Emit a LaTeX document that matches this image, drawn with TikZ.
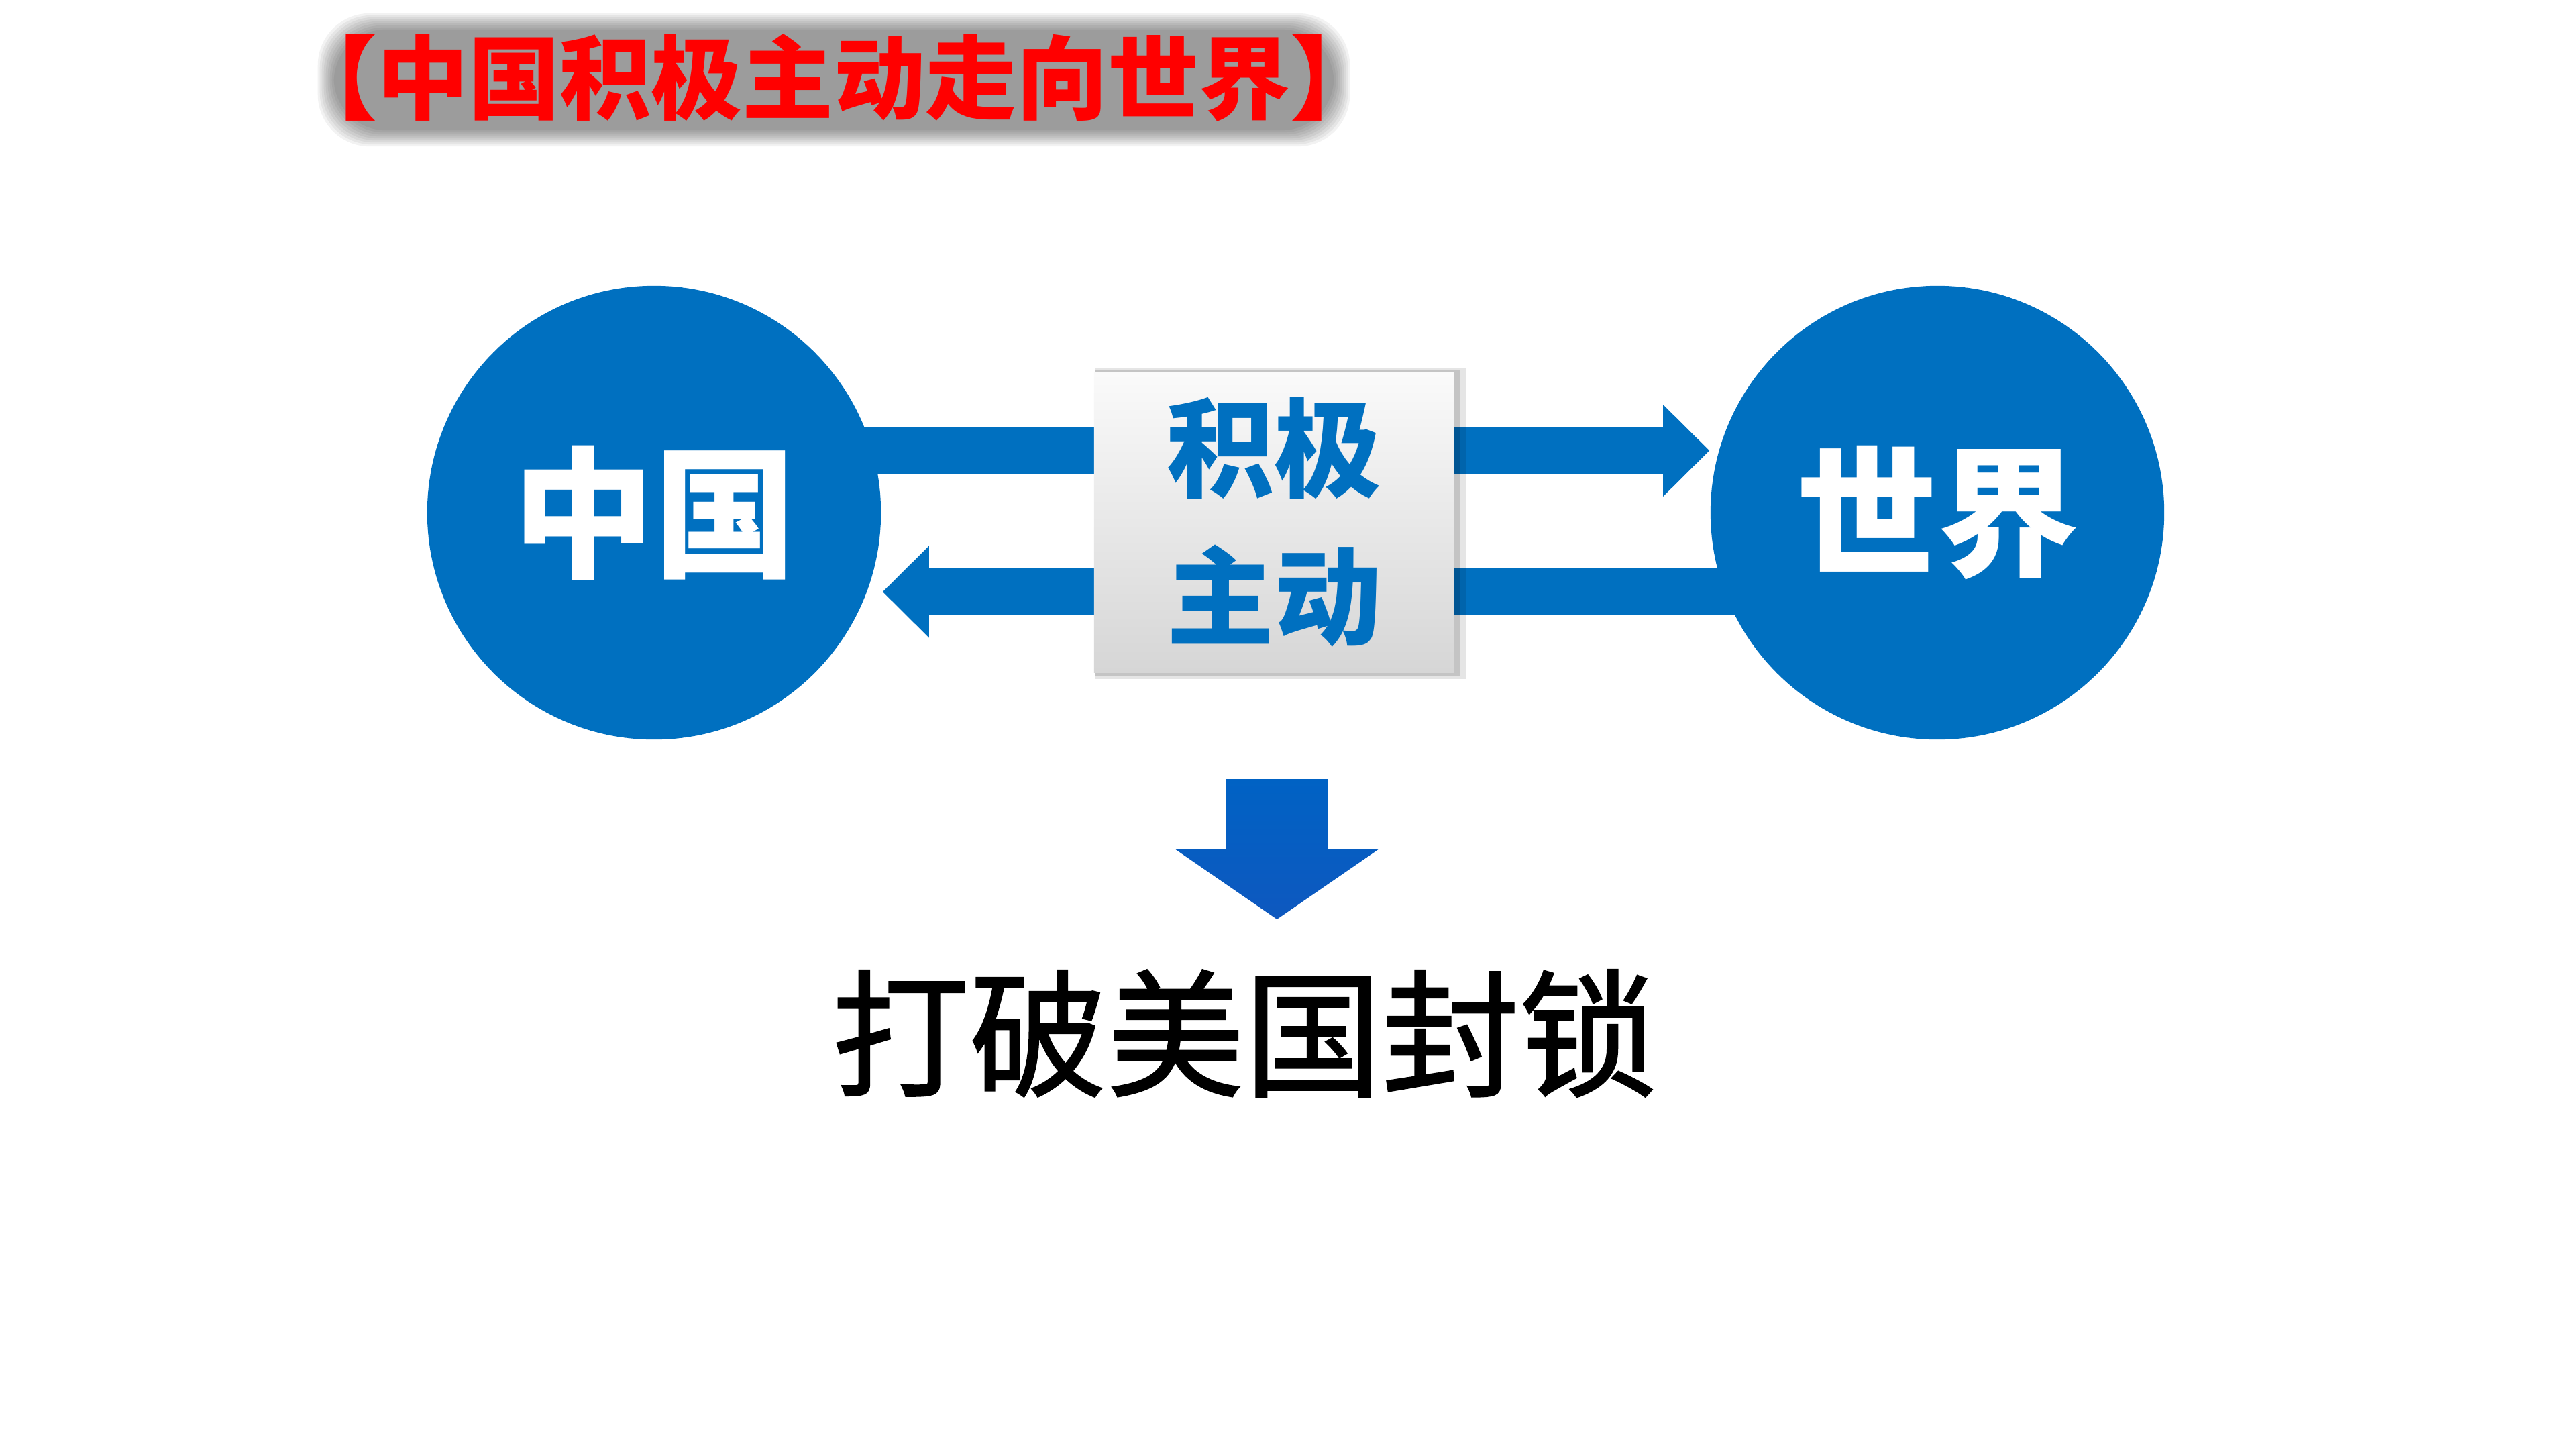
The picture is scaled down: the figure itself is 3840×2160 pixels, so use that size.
\documentclass[tikz,border=0pt]{standalone}
\usepackage{fontspec}
\newfontfamily\cjk{Noto Sans CJK SC}
\newfontfamily\cjkheavy[FakeBold=1.2]{Noto Sans CJK SC}
\usetikzlibrary{arrows.meta,calc}
\definecolor{cblue}{RGB}{0,112,192}
\definecolor{tred}{RGB}{255,0,0}
\definecolor{dtopc}{RGB}{0,98,196}
\definecolor{dbotc}{RGB}{14,88,191}
\pgfdeclarelayer{paper}
\pgfdeclarelayer{bg}
\pgfsetlayers{paper,bg,main}
\begin{document}
\begin{tikzpicture}[x=0.01cm,y=-0.01cm,
  ball/.style={circle,fill=cblue,minimum size=6.76cm,inner sep=0pt,text=white,
    font=\cjk\bfseries\fontsize{60}{60}\selectfont},
  flow/.style={cblue,line width=0.69cm,
    -{Triangle[length=0.69cm,width=1.37cm,line width=0pt]}},
  midbox/.style={rectangle,minimum width=5.36cm,minimum height=4.47cm,inner sep=0pt,
    top color={rgb,255:red,250;green,250;blue,250},
    bottom color={rgb,255:red,214;green,214;blue,214},
    text=cblue,align=center,
    font=\cjk\bfseries\fontsize{45.5}{62.9}\selectfont},
  titletext/.style={text=tred,inner sep=0pt,font=\cjk\bfseries\fontsize{38.7}{40}\selectfont},
  bottomtext/.style={text=black,inner sep=0pt,font=\cjkheavy\fontsize{58.3}{60}\selectfont}]
\useasboundingbox (0,0) rectangle (3840,2160);
\begin{pgfonlayer}{paper}
  \fill[white] (0,0) rectangle (3840,2160);
\end{pgfonlayer}

% title
\node[titletext] (title) at (1243,116) {【中国积极主动走向世界】};
\begin{pgfonlayer}{bg}
  \foreach \i in {0,...,8} {
    \fill[black,opacity=0.05,rounded corners=22]
      ($(title.north west)+(48+3*\i,-30+3*\i)$) rectangle ($(title.south east)+(-48-3*\i,36-3*\i)$);
  }
\end{pgfonlayer}

% circles
\node[ball] (cL) at (975,764) {中国};
\node[ball] (cR) at (2888,764) {世界};

% centre box
\node[midbox] (box) at (1899,778.5) {积极\\主动};

\begin{pgfonlayer}{bg}
  \draw[flow] ($(cL.center)+(0,-92.5)$) -- ($(cR.west)+(-1,-92.5)$);
  \draw[flow] ($(cR.center)+(0,118)$) -- ($(cL.east)+(2,118)$);
  \fill[black,opacity=0.10] ($(box.north west)+(2,-6)$) rectangle ($(box.south east)+(18,9)$);
  \fill[black,opacity=0.14] ($(box.north west)+(2,-3)$) rectangle ($(box.south east)+(9,5)$);
\end{pgfonlayer}

% down arrow
\coordinate (dn) at (1903.5,1161);
\shade[top color=dtopc,bottom color=dbotc]
  ($(dn)+(-75.5,0)$) -- ($(dn)+(75.5,0)$) -- ($(dn)+(75.5,105)$) -- ($(dn)+(151,105)$)
  -- ($(dn)+(0,209)$) -- ($(dn)+(-151,105)$) -- ($(dn)+(-75.5,105)$) -- cycle;

% bottom text
\node[bottomtext] (res) at (1855,1540) {打破美国封锁};
\end{tikzpicture}
\end{document}
